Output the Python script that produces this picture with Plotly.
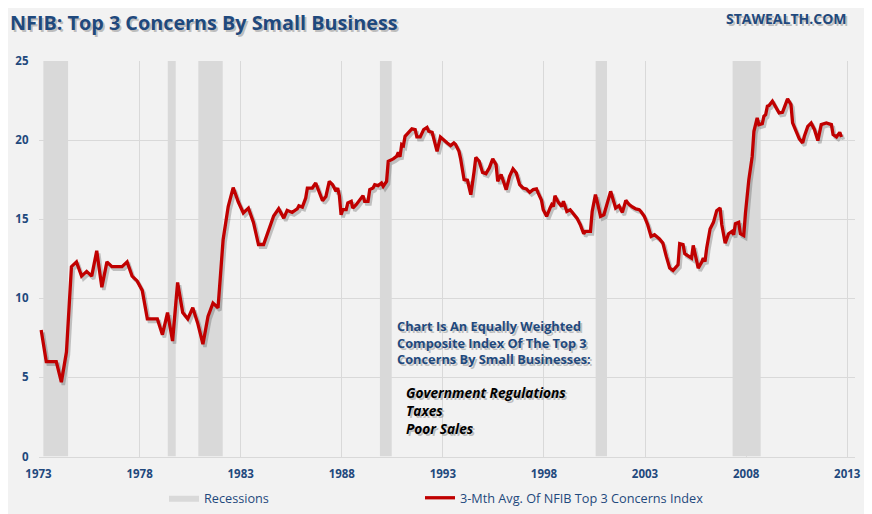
import pandas as pd
import plotly.graph_objects as go

# ---------------- data ----------------
dates = [
    "1973-10", "1974-01", "1974-04", "1974-07", "1974-10", "1975-01", "1975-04", "1975-07", "1975-10",
    "1976-01", "1976-04", "1976-07", "1976-10", "1977-01", "1977-04", "1977-07", "1977-10",
    "1978-01", "1978-04", "1978-07", "1978-10", "1979-01", "1979-04", "1979-07", "1979-10",
    "1980-01", "1980-04", "1980-07", "1980-10", "1981-01", "1981-04", "1981-07", "1981-10",
    "1982-01", "1982-04", "1982-07", "1982-10", "1983-01", "1983-04", "1983-07", "1983-10",
    "1984-01", "1984-04", "1984-07", "1984-10", "1985-01", "1985-04", "1985-07", "1985-10",
    "1985-12", "1986-03", "1986-06", "1986-07", "1986-09", "1986-11", "1986-12",
    "1987-03", "1987-05", "1987-07", "1987-09", "1987-11",
    "1988-01", "1988-03", "1988-05", "1988-06", "1988-07", "1988-08", "1988-09", "1988-11", "1988-12",
    "1989-02", "1989-03", "1989-05", "1989-07", "1989-09", "1989-10", "1989-12",
    "1990-01", "1990-03", "1990-04", "1990-06", "1990-08", "1990-09", "1990-11", "1990-12",
    "1991-03", "1991-05", "1991-06", "1991-07", "1991-08", "1991-09", "1991-10",
    "1992-01", "1992-02", "1992-04", "1992-05", "1992-07", "1992-09", "1992-11", "1992-12",
    "1993-02", "1993-05", "1993-07", "1993-09", "1993-11",
    "1994-01", "1994-03", "1994-04", "1994-06", "1994-07", "1994-09", "1994-11",
    "1995-01", "1995-03", "1995-04", "1995-06", "1995-08", "1995-10", "1995-12",
    "1996-02", "1996-04", "1996-05", "1996-07", "1996-10", "1996-12",
    "1997-02", "1997-04", "1997-06", "1997-08", "1997-10", "1997-12",
    "1998-02", "1998-04", "1998-05", "1998-07", "1998-08", "1998-10", "1998-12",
    "1999-01", "1999-02", "1999-03", "1999-05", "1999-07", "1999-08", "1999-10", "1999-12",
    "2000-02", "2000-04", "2000-06", "2000-08", "2000-09", "2000-12",
    "2001-01", "2001-03", "2001-04", "2001-06", "2001-08", "2001-10", "2001-12",
    "2002-01", "2002-03", "2002-05", "2002-07", "2002-09", "2002-11",
    "2003-01", "2003-03", "2003-05", "2003-06", "2003-08", "2003-10", "2003-12",
    "2004-02", "2004-05", "2004-07", "2004-09", "2004-11",
    "2005-01", "2005-04", "2005-05", "2005-07", "2005-08", "2005-10", "2005-12",
    "2006-01", "2006-02", "2006-04", "2006-06", "2006-07", "2006-08", "2006-09", "2006-11",
    "2007-01", "2007-03", "2007-05", "2007-06", "2007-08", "2007-10", "2007-12",
    "2008-01", "2008-02", "2008-04", "2008-05", "2008-07", "2008-08", "2008-10", "2008-12",
    "2009-01", "2009-03", "2009-04", "2009-06", "2009-07", "2009-08", "2009-09", "2009-10", "2009-12",
    "2010-02", "2010-04", "2010-06", "2010-08", "2010-09", "2010-11", "2010-12",
    "2011-02", "2011-04", "2011-06", "2011-07", "2011-09", "2011-11",
    "2012-01", "2012-03", "2012-05", "2012-08", "2012-11", "2012-12",
    "2013-02", "2013-04", "2013-05",
]
index_values = [
    8.0, 6.0, 6.0, 6.0, 4.7, 6.6, 12.0, 12.3, 11.4,
    11.7, 11.4, 13.0, 10.7, 12.3, 12.0, 12.0, 12.0,
    12.3, 11.4, 11.1, 10.5, 8.7, 8.7, 8.7, 7.7,
    9.1, 7.3, 11.0, 9.1, 8.7, 9.4, 8.4, 7.1,
    8.85, 9.7, 9.4, 13.7, 15.8, 17.0, 16.1, 15.4,
    15.7, 14.8, 13.4, 13.4, 14.3, 15.2, 15.66, 15.07,
    15.56, 15.43, 15.65, 15.85, 15.77, 16.34, 16.97,
    16.97, 17.29, 16.66, 16.17, 16.44,
    17.39, 17.18, 16.76, 16.97, 16.49, 15.28, 15.6, 15.6, 16.03,
    16.13, 15.7, 15.92, 16.17, 16.49, 16.13, 16.13,
    16.87, 16.97, 17.18, 17.12, 17.29, 17.08, 17.39, 18.66,
    18.81, 18.97, 19.23, 18.94, 19.72, 19.65, 20.24,
    20.56, 20.71, 20.66, 20.2, 20.2, 20.66, 20.8, 20.56,
    20.49, 19.29, 20.2, 19.99, 19.82,
    19.65, 19.82, 19.72, 19.29, 18.81, 17.5, 17.46,
    16.55, 18.02, 18.91, 18.66, 17.96, 17.88, 18.24,
    18.81, 18.45, 17.39, 17.82, 16.87, 17.71,
    18.18, 17.92, 17.18, 16.97, 16.91, 16.7,
    16.87, 16.91, 16.66, 16.19, 15.6, 15.18, 15.7,
    15.92, 15.81, 16.49, 16.06, 15.81, 16.13, 15.49, 15.6,
    15.35, 15.07, 14.65, 14.08, 14.23, 14.23,
    15.49, 16.55, 16.13, 15.18, 15.28, 16.03, 16.76,
    16.41, 15.7, 15.85, 15.43, 16.19, 15.92,
    15.77, 15.65, 15.6, 15.49, 15.18, 14.65, 13.91,
    14.02, 13.75, 13.49, 12.65, 11.91,
    11.76, 12.12, 13.45, 13.39, 12.82, 12.69, 12.54,
    13.34, 12.75, 11.91, 12.27, 12.54, 12.33, 13.18, 14.38,
    14.8, 15.54, 15.71, 14.65, 13.49, 14.08, 14.23,
    14.02, 14.72, 14.8, 14.08, 13.96, 15.39, 17.5, 18.97,
    20.56, 21.41, 20.98, 21.04, 21.51, 21.61, 22.14, 22.18, 22.46,
    22.04, 21.72, 21.76, 22.25, 22.61, 22.25, 21.09,
    20.56, 20.08, 19.82, 20.24, 20.87, 21.08,
    20.66, 19.97, 20.98, 21.08, 20.98, 20.35,
    20.2, 20.49, 20.2,
]

recession_start = ["1973-11-10", "1980-01-05", "1981-07-10", "1990-07-04", "2001-03-05", "2007-12-13"]
recession_end = ["1975-01-30", "1980-05-28", "1982-09-24", "1991-02-02", "2001-09-26", "2009-05-03"]

tick_dates = ["1973-08-14", "1978-08-14", "1983-08-14", "1988-08-14", "1993-08-14",
              "1998-08-14", "2003-08-14", "2008-08-14", "2013-08-14"]
tick_labels = ["1973", "1978", "1983", "1988", "1993", "1998", "2003", "2008", "2013"]
y_ticks = [0, 5, 10, 15, 20, 25]

x_range = ["1973-08-14", "2014-01-01"]
y_range = [0, 25]

# ---------------- styling ----------------
BG = "#F2F2F2"
GRID = "#D9D9D9"
REC = "#D9D9D9"
RED = "#C00000"
NAVY = "#1F497D"
FONT = "Open Sans"

# the page body adds an 8px margin on the top/left of the figure
OFF = 8
W, H = 856, 506
# plot area in screenshot pixels
P_LEFT, P_RIGHT, P_TOP, P_BOTTOM = 38.5, 855, 61, 456.5

def fx(p):  # screenshot pixel -> figure (paper) fraction, x
    return (p - OFF) / W

def fy(p):  # screenshot pixel -> figure (paper) fraction, y
    return (H - (p - OFF)) / H

x_domain = [fx(P_LEFT), fx(P_RIGHT)]
y_domain = [fy(P_BOTTOM), fy(P_TOP)]

# recession polygons built from start/end lists
rx, ry = [], []
for s, e in zip(recession_start, recession_end):
    rx += [s, e, e, s, s, None]
    ry += [y_range[0], y_range[0], y_range[1], y_range[1], y_range[0], None]

fig = go.Figure()

fig.add_trace(go.Scatter(
    x=rx, y=ry, fill="toself", fillcolor=REC, mode="lines",
    line=dict(width=0, color=REC), name="Recessions", hoverinfo="skip",
    legend="legend", xaxis="x", yaxis="y",
))

# drop shadow of the line: same data on an overlay axis pair whose range is nudged
dx = pd.Timedelta(days=36)
dy = 0.17
sx_range = [str((pd.Timestamp(x_range[0]) - dx).date()), str((pd.Timestamp(x_range[1]) - dx).date())]
fig.add_trace(go.Scatter(
    x=dates, y=index_values, mode="lines",
    line=dict(color="rgba(60,60,60,0.28)", width=3.5),
    showlegend=False, hoverinfo="skip", xaxis="x2", yaxis="y2",
))

fig.add_trace(go.Scatter(
    x=dates, y=index_values, mode="lines",
    line=dict(color=RED, width=3.3),
    name="3-Mth Avg. Of NFIB Top 3 Concerns Index",
    legend="legend2", xaxis="x3", yaxis="y3",
))

hidden = dict(showgrid=False, showticklabels=False, zeroline=False, showline=False, ticks="",
              automargin=False)

fig.update_layout(
    width=W, height=H,
    margin=dict(l=0, r=0, t=0, b=0, pad=0),
    paper_bgcolor=BG, plot_bgcolor=BG,
    font=dict(family=FONT, color=NAVY),
    xaxis=dict(
        type="date", range=x_range, domain=x_domain, tickvals=tick_dates, ticktext=tick_labels,
        showgrid=True, gridcolor=GRID, gridwidth=1, zeroline=False,
        showline=True, linecolor=GRID, linewidth=1, automargin=False,
        ticks="", ticklabelstandoff=7,
        tickfont=dict(family=FONT, size=11.5, color=NAVY, weight="bold"),
    ),
    yaxis=dict(
        range=y_range, domain=y_domain, tickvals=y_ticks, showgrid=True, gridcolor=GRID, gridwidth=1,
        zeroline=False, showline=False, ticks="", ticklabelstandoff=9, automargin=False,
        tickfont=dict(family=FONT, size=11.5, color=NAVY, weight="bold"),
    ),
    xaxis2=dict(type="date", range=sx_range, domain=x_domain, overlaying="x", **hidden),
    yaxis2=dict(range=[y_range[0] + dy, y_range[1] + dy], domain=y_domain, overlaying="y", **hidden),
    xaxis3=dict(type="date", range=x_range, domain=x_domain, overlaying="x", **hidden),
    yaxis3=dict(range=y_range, domain=y_domain, overlaying="y", **hidden),
    legend=dict(
        orientation="h", x=fx(164), y=fy(498), xanchor="left", yanchor="middle",
        bgcolor="rgba(0,0,0,0)", font=dict(family=FONT, size=12.7, color=NAVY),
    ),
    legend2=dict(
        orientation="h", x=fx(420), y=fy(498), xanchor="left", yanchor="middle",
        bgcolor="rgba(0,0,0,0)", font=dict(family=FONT, size=12.7, color=NAVY),
    ),
    showlegend=True,
)

# title & texts (with soft shadows like the original)
def shadowed(text, x, y, size, color, weight="bold", style="normal", align="left"):
    for sx, sy, c in [(1.5, -2, "rgba(0,0,0,0.22)"), (0, 0, color)]:
        fig.add_annotation(
            text=text, x=x, y=y, xref="paper", yref="paper",
            xanchor="left" if align == "left" else "right",
            yanchor="middle", showarrow=False, xshift=sx, yshift=sy, align=align,
            borderpad=0,
            font=dict(family=FONT, size=size, color=c, weight=weight, style=style),
        )

shadowed("NFIB: Top 3 Concerns By Small Business", fx(9), fy(22.5), 19.8, NAVY)
shadowed("STAWEALTH.COM", fx(848), fy(18.5), 14, NAVY, align="right")
shadowed("Chart Is An Equally Weighted<br>Composite Index Of The Top 3<br>Concerns By Small Businesses:",
         fx(396), fy(342), 12.8, NAVY)
shadowed("Government Regulations<br>Taxes<br>Poor Sales", fx(405), fy(410), 13.7, "#000000",
         style="italic")

fig.write_html("out.html")
